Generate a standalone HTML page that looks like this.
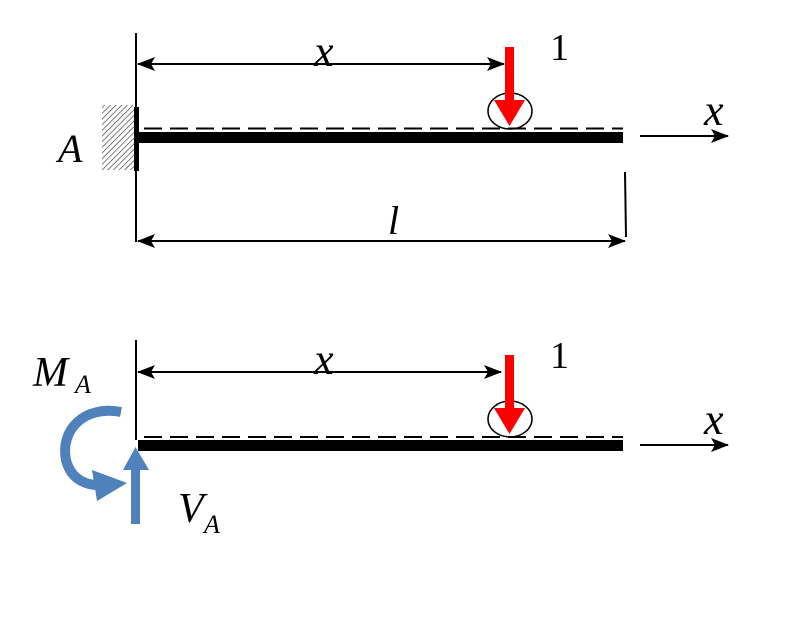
<!DOCTYPE html>
<html><head><meta charset="utf-8"><style>
html,body{margin:0;padding:0;background:#fff;width:810px;height:619px;overflow:hidden}
text{font-family:"Liberation Serif",serif;font-style:italic}
text.n{font-style:normal}
</style></head><body>
<svg width="810" height="619" viewBox="0 0 810 619" xmlns="http://www.w3.org/2000/svg">
<defs>
<marker id="ah" markerWidth="18" markerHeight="14" refX="17" refY="7" orient="auto" markerUnits="userSpaceOnUse"><path d="M0,0 L18,7 L0,14 L4,7 Z" fill="#000"/></marker>
<marker id="ahs" markerWidth="18" markerHeight="14" refX="1" refY="7" orient="auto" markerUnits="userSpaceOnUse"><path d="M18,0 L0,7 L18,14 L14,7 Z" fill="#000"/></marker>
<pattern id="hatch" width="4" height="4" patternUnits="userSpaceOnUse" patternTransform="rotate(45)"><line x1="0" y1="0" x2="0" y2="4" stroke="#444" stroke-width="1.4"/></pattern>
</defs>
<!-- TOP -->
<line x1="136" y1="33" x2="136" y2="242" stroke="#000" stroke-width="2"/>
<rect x="102" y="105" width="32" height="65" fill="url(#hatch)"/>
<rect x="134" y="107" width="5" height="64" fill="#000"/>
<line x1="138" y1="64" x2="504" y2="64" stroke="#000" stroke-width="2" marker-start="url(#ahs)" marker-end="url(#ah)"/>
<text x="314" y="66" font-size="44">x</text>
<line x1="144" y1="128.5" x2="623" y2="128.5" stroke="#000" stroke-width="2" stroke-dasharray="18,8"/>
<rect x="138" y="132" width="485" height="11" fill="#000"/>
<ellipse cx="510" cy="111" rx="22" ry="18" fill="none" stroke="#000" stroke-width="1.5"/>
<rect x="505" y="47" width="9" height="55" fill="#f00"/>
<path d="M494,100 L525,100 L509.5,126 Z" fill="#f00"/>
<text class="n" x="550" y="60" font-size="38">1</text>
<line x1="640" y1="136" x2="728" y2="136" stroke="#000" stroke-width="2" marker-end="url(#ah)"/>
<text x="704" y="125" font-size="44">x</text>
<text x="58" y="162" font-size="40">A</text>
<line x1="625" y1="172" x2="626" y2="237" stroke="#000" stroke-width="2"/>
<line x1="138" y1="241" x2="625" y2="241" stroke="#000" stroke-width="2" marker-start="url(#ahs)" marker-end="url(#ah)"/>
<text x="388" y="234" font-size="40">l</text>
<!-- BOTTOM -->
<line x1="136" y1="340" x2="136" y2="440" stroke="#000" stroke-width="2"/>
<line x1="138" y1="372" x2="501" y2="372" stroke="#000" stroke-width="2" marker-start="url(#ahs)" marker-end="url(#ah)"/>
<text x="314" y="374" font-size="44">x</text>
<line x1="144" y1="437" x2="623" y2="437" stroke="#000" stroke-width="2" stroke-dasharray="18,8"/>
<rect x="138" y="440" width="485" height="11" fill="#000"/>
<ellipse cx="510" cy="419" rx="22" ry="18" fill="none" stroke="#000" stroke-width="1.5"/>
<rect x="505" y="355" width="9" height="55" fill="#f00"/>
<path d="M494,408 L525,408 L509.5,434 Z" fill="#f00"/>
<text class="n" x="550" y="368" font-size="38">1</text>
<line x1="640" y1="445" x2="728" y2="445" stroke="#000" stroke-width="2" marker-end="url(#ah)"/>
<text x="704" y="434" font-size="44">x</text>
<text x="33" y="386" font-size="42">M</text><text x="75" y="393" font-size="26">A</text>
<text x="178" y="522" font-size="42">V</text><text x="204" y="533" font-size="26">A</text>
<!-- moment -->
<path d="M121,412 C84,405 60,430 66,460 C71,480 88,488 108,484" fill="none" stroke="#4f81bd" stroke-width="10"/>
<path d="M92,470 L127,483 L97,501 Z" fill="#4f81bd"/>
<!-- VA -->
<rect x="131" y="466" width="9" height="58" fill="#4f81bd"/>
<path d="M123,470 L135.5,447 L149,470 Z" fill="#4f81bd"/>
</svg>
</body></html>
